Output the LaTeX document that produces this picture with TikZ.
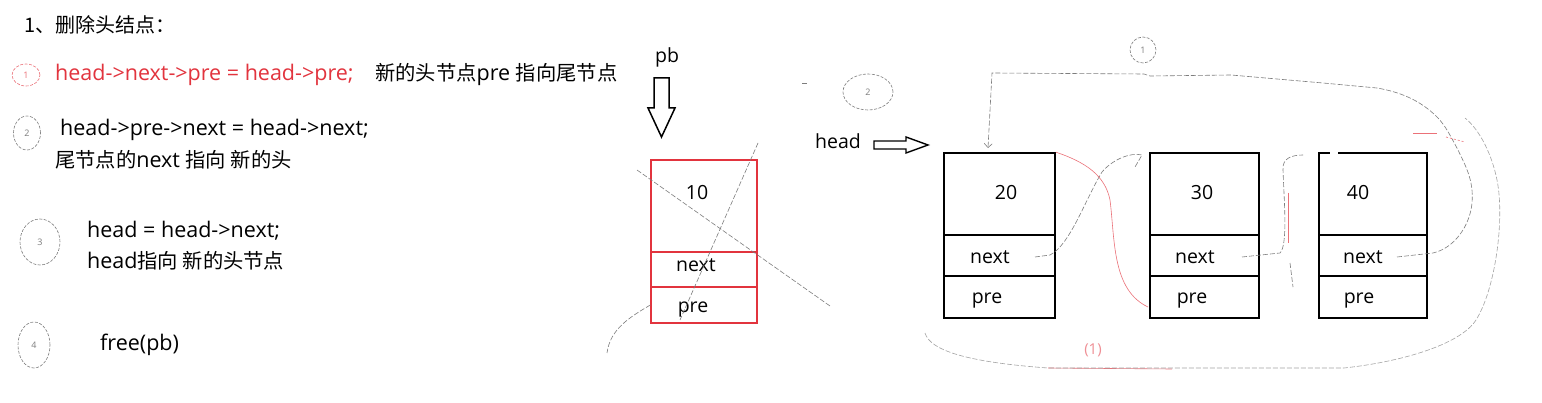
\documentclass[tikz,border=0pt]{standalone}
\usepackage{fontspec}
\setmainfont{Open Sans}
\newfontfamily\cjk{Noto Sans CJK SC}
\usetikzlibrary{arrows.meta,shapes.geometric}
\definecolor{hred}{RGB}{226,52,62}
\definecolor{pencil}{RGB}{125,125,125}
\newcommand\zh[1]{{\cjk\fontsize{20.3}{22}\selectfont #1}}
\begin{document}
\begin{tikzpicture}[x=1pt,y=-1pt,
  txt/.style={inner sep=0pt,anchor=west,font=\fontsize{21.5}{23}\selectfont},
  lbl/.style={inner sep=0pt,font=\fontsize{19.5}{21}\selectfont},
  cell/.style={draw=black,line width=1.7pt,inner sep=0pt},
  rcell/.style={draw=hred,line width=1.3pt,minimum width=106pt,inner sep=0pt},
  pen/.style={draw=pencil,line width=0.6pt,dash pattern=on 5pt off 2pt},
  rpen/.style={draw=hred!70,line width=0.6pt},
  pmark/.style={draw=pencil,line width=0.6pt,dash pattern=on 3pt off 1.5pt,ellipse,inner sep=0pt,font=\fontsize{9}{10}\selectfont,text=pencil},
  hollow/.style={draw=black,line width=1.5pt,fill=white,line join=miter}
]
\useasboundingbox (0,0) rectangle (1542,403);
\fill[white] (0,0) rectangle (1542,403);

% ---------------- left column text
\node[txt] (title) at (24,25) {{\cjk\fontsize{20}{22}\selectfont 1、删除头结点：}};

\node[pmark,draw=hred!70,text=hred!70,minimum width=28pt,minimum height=22pt] (m1) at (26,75) {1};
\node[txt,text=hred] (s1) at (55,75) {head->next->pre = head->pre;};
\node[txt] (s1c) at (375,75) {\zh{新的头节点}pre \zh{指向尾节点}};

\node[pmark,minimum width=27pt,minimum height=34pt] (m2) at (27,133) {2};
\node[txt] (s2) at (60,130) {head->pre->next = head->next;};
\node[txt] (s2c) at (55,160) {\zh{尾节点的}next \zh{指向 新的头}};

\node[pmark,minimum width=40pt,minimum height=46pt] (m3) at (40,242) {3};
\node[txt] (s3) at (87,231) {head = head->next;};
\node[txt] (s3c) at (87,261) {head\zh{指向 新的头节点}};

\node[pmark,minimum width=32pt,minimum height=46pt] (m4) at (34,345) {4};
\node[txt] (s4) at (100,345) {free(pb)};

% ---------------- pb and deleted node
\node[lbl] (pb) at (667,57) {pb};
\draw[hollow] (654,78) -- (669,78) -- (669,108) -- (675,108) -- (661.5,137) -- (648,108) -- (654,108) -- cycle;

\node[rcell,minimum height=92pt] (v10) at (704,206) {};
\node[rcell,minimum height=35pt] (n10) at (704,269.5) {};
\node[rcell,minimum height=36pt] (p10) at (704,305) {};
\node[lbl] at (697,193) {10};
\node[lbl] at (696,265) {next};
\node[lbl] at (693,310) {pre};

\draw[pen] (637,170) -- (830,306);
\draw[pen] (758,143) -- (680,320);
\draw[pen] (p10.west) .. controls (628,318) and (610,330) .. (607,353);

% ---------------- head arrow
\node[lbl] (head) at (838,141) {head};
\draw[hollow,line width=1.4pt] (874,141) -- (906,141) -- (906,137) -- (928,145) -- (906,153) -- (906,149) -- (874,149) -- cycle;

% ---------------- remaining nodes
\node[cell,minimum width=111pt,minimum height=82pt] (v20) at (999.5,194) {};
\node[cell,minimum width=111pt,minimum height=41pt] (n20) at (999.5,255.5) {};
\node[cell,minimum width=111pt,minimum height=42pt] (p20) at (999.5,297) {};
\node[lbl] at (1006,193) {20};
\node[lbl] at (990,257) {next};
\node[lbl] at (987,301) {pre};

\node[cell,minimum width=109pt,minimum height=82pt] (v30) at (1204.5,194) {};
\node[cell,minimum width=109pt,minimum height=41pt] (n30) at (1204.5,255.5) {};
\node[cell,minimum width=109pt,minimum height=42pt] (p30) at (1204.5,297) {};
\node[lbl] at (1202,193) {30};
\node[lbl] at (1195,257) {next};
\node[lbl] at (1192,301) {pre};

\node[cell,minimum width=108pt,minimum height=82pt] (v40) at (1373,194) {};
\node[cell,minimum width=108pt,minimum height=41pt] (n40) at (1373,255.5) {};
\node[cell,minimum width=108pt,minimum height=42pt] (p40) at (1373,297) {};
\node[lbl] at (1358,193) {40};
\node[lbl] at (1363,257) {next};
\node[lbl] at (1359,301) {pre};
\fill[white] (1330,151.5) rectangle (1338,154.5);

% ---------------- pencil marks
\node[pmark,minimum width=26pt,minimum height=26pt] (c1) at (1143,50) {1};
\node[pmark,minimum width=50pt,minimum height=36pt] (c2) at (868,92) {2};
\draw[pen] (802,83) -- (808,83);
\node[inner sep=0pt,text=hred!55,font=\fontsize{15}{16}\selectfont] (c1r) at (1093,350) {(1)};

% pointer 1: tail next -> top -> new head
\coordinate (t40) at (1397,257);
\draw[pen,-{Straight Barb[length=4pt]}] (t40) -- (1433,253)
  .. controls (1455,248) and (1470,225) .. (1472,203)
  .. controls (1474,180) and (1465,165) .. (1458,150)
  .. controls (1450,135) and (1445,125) .. (1437,117)
  .. controls (1420,100) and (1400,92) .. (1377,88)
  -- (1323,83) -- (1231,75) -- (1150,76) -- (1144,74) -- (992,73) -- (988,148);

% next 20 -> 30
\draw[pen] (1035,257) -- (1050,255) .. controls (1070,245) and (1085,200) .. (1102,172)
  .. controls (1112,160) and (1130,152) .. (1142,155) -- (1135,167);
% next 30 -> 40
\draw[pen] (1242,257) -- (1280,253) .. controls (1288,245) and (1284,200) .. (1283,170)
  .. controls (1282,158) and (1292,155) .. (1303,155);
\draw[pen] (1290,263) -- (1293,287);

% red previous pointers
\draw[rpen] (v20.north east) .. controls (1085,162) and (1105,175) .. (1110,200)
  .. controls (1115,240) and (1112,290) .. (1148,307);
\draw[rpen,line width=0.9pt] (1288,193) -- (1288,243);
\draw[rpen,line width=0.9pt] (1413,133) -- (1437,133);
\draw[rpen,dash pattern=on 2pt off 2pt] (1446,137) -- (1465,142);
\draw[rpen] (1048,368) -- (1172,369);

% outer loop
\draw[pen,draw=pencil!70] (925,333) .. controls (930,350) and (965,362) .. (1048,368)
  -- (1344,368) .. controls (1400,362) and (1460,345) .. (1476,320)
  .. controls (1495,290) and (1505,220) .. (1497,180)
  .. controls (1492,155) and (1480,130) .. (1465,118);
\end{tikzpicture}
\end{document}
